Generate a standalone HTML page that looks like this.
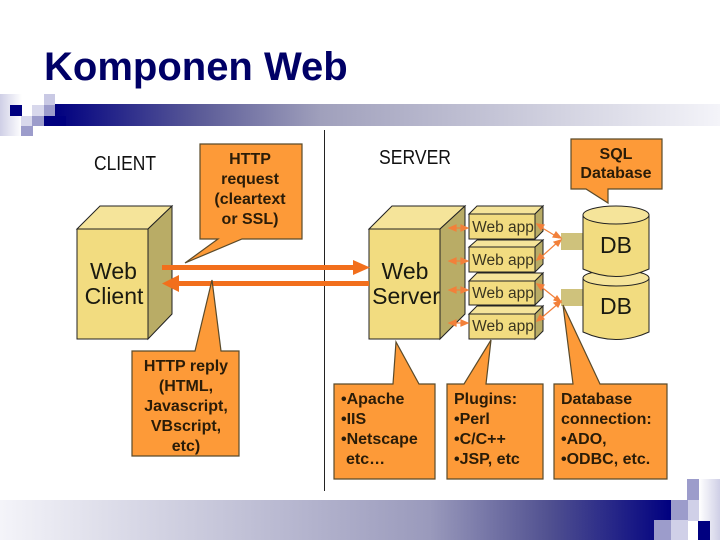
<!DOCTYPE html>
<html><head><meta charset="utf-8"><style>
html,body{margin:0;padding:0;background:#fff;width:720px;height:540px;overflow:hidden}
svg{display:block}
text{font-family:"Liberation Sans",sans-serif}
.c{fill:#fd9a38;stroke:#5a4a2a;stroke-width:1.2}
.t{font-size:16px;fill:#2a1c08;font-weight:bold;stroke:none}
.f{fill:#f2dc80;stroke:#222;stroke-width:1}
.p{fill:#f5e49a;stroke:#222;stroke-width:1}
.s{fill:#b9ac66;stroke:#222;stroke-width:1}
</style></head><body>
<svg width="720" height="540" viewBox="0 0 720 540" xmlns="http://www.w3.org/2000/svg">
<defs>
<linearGradient id="g1" x1="0" x2="1" y1="0" y2="0"><stop offset="0" stop-color="#000080"/><stop offset="0.22" stop-color="#5c5c98"/><stop offset="0.4" stop-color="#a0a0bc"/><stop offset="1" stop-color="#f4f4f9"/></linearGradient>
<linearGradient id="g2" x1="0" x2="1" y1="0" y2="0"><stop offset="0" stop-color="#f4f4f9"/><stop offset="0.64" stop-color="#9a9abc"/><stop offset="0.82" stop-color="#505090"/><stop offset="1" stop-color="#000080"/></linearGradient>
<linearGradient id="g3" x1="0" x2="1" y1="0" y2="0"><stop offset="0" stop-color="#cfcfe6"/><stop offset="1" stop-color="#fff"/></linearGradient>
<linearGradient id="g4" x1="0" x2="1" y1="0" y2="0"><stop offset="0" stop-color="#fff"/><stop offset="1" stop-color="#cfcfe6"/></linearGradient>
</defs>
<text x="44" y="80" font-size="40" font-weight="bold" fill="#000066">Komponen Web</text>

<rect x="55" y="104" width="665" height="22" fill="url(#g1)"/>
<rect x="44" y="116" width="22" height="10" fill="#000080"/>
<rect x="0" y="94" width="22" height="42" fill="url(#g3)"/>
<rect x="10" y="105" width="12" height="11" fill="#000080"/>
<rect x="44" y="94" width="11" height="11" fill="#c9c9e4"/>
<rect x="44" y="105" width="11" height="11" fill="#9c9ccb"/>
<rect x="32" y="105" width="12" height="11" fill="#d8d8ec"/>
<rect x="21" y="116" width="11" height="10" fill="#d8d8ec"/>
<rect x="32" y="116" width="12" height="10" fill="#9c9ccb"/>
<rect x="21" y="126" width="12" height="10" fill="#9c9ccb"/>

<rect x="0" y="500" width="671" height="40" fill="url(#g2)"/>
<rect x="687" y="479" width="12" height="21" fill="#9c9ccb"/>
<rect x="699" y="479" width="21" height="61" fill="url(#g4)"/>
<rect x="671" y="500" width="17" height="20" fill="#9c9ccb"/>
<rect x="688" y="500" width="11" height="21" fill="#d0d0e8"/>
<rect x="654" y="520" width="17" height="20" fill="#9c9ccb"/>
<rect x="671" y="520" width="17" height="20" fill="#d0d0e8"/>
<rect x="688" y="521" width="10" height="19" fill="#fff"/>
<rect x="698" y="521" width="12" height="19" fill="#000080"/>

<line x1="324.500" y1="130" x2="324.500" y2="491" stroke="#222" stroke-width="1"/>

<text x="94" y="170" font-size="20" fill="#111" textLength="62" lengthAdjust="spacingAndGlyphs">CLIENT</text>
<text x="379" y="164" font-size="20" fill="#111" textLength="72" lengthAdjust="spacingAndGlyphs">SERVER</text>

<!-- client box -->
<polygon class="p" points="77,229 100,206 172,206 148,229"/>
<polygon class="s" points="148,229 172,206 172,314 148,339"/>
<rect class="f" x="77" y="229" width="71" height="110"/>
<text x="113.500" y="279" font-size="23" text-anchor="middle" fill="#1a1a10">Web</text>
<text x="114" y="304" font-size="23" text-anchor="middle" fill="#1a1a10">Client</text>

<!-- server box -->
<polygon class="p" points="369,229 392,206 465,206 440,229"/>
<polygon class="s" points="440,229 465,206 465,314 440,339"/>
<rect class="f" x="369" y="229" width="71" height="110"/>
<text x="405" y="279" font-size="23" text-anchor="middle" fill="#1a1a10">Web</text>
<text x="406" y="304" font-size="23" text-anchor="middle" fill="#1a1a10">Server</text>

<!-- web apps -->
<g>
<polygon class="p" points="469,214 477,206 543,206 535,214"/><polygon class="s" points="535,214 543,206 543,231 535,239"/><rect class="f" x="469" y="214" width="66" height="25"/>
<text x="503" y="232" font-size="15.500" text-anchor="middle" fill="#3a3520">Web app</text>
<polygon class="p" points="469,247 477,240 543,240 535,247"/><polygon class="s" points="535,247 543,240 543,264 535,272"/><rect class="f" x="469" y="247" width="66" height="25"/>
<text x="503" y="265" font-size="15.500" text-anchor="middle" fill="#3a3520">Web app</text>
<polygon class="p" points="469,281 477,273 543,273 535,281"/><polygon class="s" points="535,281 543,273 543,297 535,305"/><rect class="f" x="469" y="281" width="66" height="24"/>
<text x="503" y="298" font-size="15.500" text-anchor="middle" fill="#3a3520">Web app</text>
<polygon class="p" points="469,314 477,306 543,306 535,314"/><polygon class="s" points="535,314 543,306 543,331 535,339"/><rect class="f" x="469" y="314" width="66" height="25"/>
<text x="503" y="331" font-size="15.500" text-anchor="middle" fill="#3a3520">Web app</text>
</g>

<!-- DB -->
<rect x="561" y="233" width="23" height="17" fill="#cfc27c"/>
<rect x="561" y="289" width="23" height="17" fill="#cfc27c"/>
<path class="f" d="M583,278 V332 Q616,347 649,332 V278 Z"/>
<ellipse class="p" cx="616" cy="278" rx="33" ry="8"/>
<path class="f" d="M583,215 V269 Q616,284 649,269 V215 Z"/>
<ellipse class="p" cx="616" cy="215" rx="33" ry="9"/>
<text x="616" y="253" font-size="23" text-anchor="middle" fill="#1a1a10">DB</text>
<text x="616" y="314" font-size="23" text-anchor="middle" fill="#1a1a10">DB</text>

<!-- big arrows -->
<g fill="#f26f1c">
<rect x="162" y="265" width="195" height="5"/>
<polygon points="353,260 370,267.500 353,275"/>
<rect x="175" y="281" width="194" height="5"/>
<polygon points="179,275 162,283.500 179,292"/>
</g>

<!-- small arrows -->
<g stroke="#f2803a" stroke-width="1.200" fill="#f2803a">
<line x1="450" y1="228" x2="466" y2="228"/><polygon points="449,228 456,225 456,231"/><polygon points="468,228 461,225 461,231"/>
<line x1="450" y1="261" x2="466" y2="261"/><polygon points="449,261 456,258 456,264"/><polygon points="468,261 461,258 461,264"/>
<line x1="450" y1="290" x2="466" y2="290"/><polygon points="449,290 456,287 456,293"/><polygon points="468,290 461,287 461,293"/>
<line x1="450" y1="323" x2="466" y2="323"/><polygon points="449,323 456,320 456,326"/><polygon points="468,323 461,320 461,326"/>
<line x1="539" y1="226" x2="559" y2="238"/><polygon points="537,224 544,225 541,230"/><polygon points="561,238 553,237 556,232"/>
<line x1="539" y1="259" x2="559" y2="241"/><polygon points="537,260 540,254 544,258"/><polygon points="561,240 558,246 554,242"/>
<line x1="539" y1="285" x2="559" y2="301"/><polygon points="537,284 544,285 541,290"/><polygon points="561,302 554,300 557,296"/>
<line x1="539" y1="320" x2="559" y2="303"/><polygon points="537,321 540,315 544,319"/><polygon points="561,301 558,307 554,303"/>
</g>

<!-- callouts -->
<polygon class="c" points="200,144 302,144 302,239 242,239 185,263 218,239 200,239"/>
<g text-anchor="middle">
<text class="t" x="250" y="164">HTTP</text>
<text class="t" x="250" y="184">request</text>
<text class="t" x="250" y="204">(cleartext</text>
<text class="t" x="250" y="224">or SSL)</text>
</g>

<polygon class="c" points="571,139 662,139 662,189 608,189 608,203 586,189 571,189"/>
<g text-anchor="middle">
<text class="t" x="616" y="159">SQL</text>
<text class="t" x="616" y="178">Database</text>
</g>

<polygon class="c" points="132,351 195,351 212,280 221,351 239,351 239,456 132,456"/>
<g text-anchor="middle">
<text class="t" x="186" y="371">HTTP reply</text>
<text class="t" x="186" y="391">(HTML,</text>
<text class="t" x="186" y="411">Javascript,</text>
<text class="t" x="186" y="431">VBscript,</text>
<text class="t" x="186" y="451">etc)</text>
</g>

<polygon class="c" points="334,384 393,384 396,342 419,384 435,384 435,479 334,479"/>
<text class="t" x="341" y="404">•Apache</text>
<text class="t" x="341" y="424">•IIS</text>
<text class="t" x="341" y="444">•Netscape</text>
<text class="t" x="346" y="464">etc…</text>

<polygon class="c" points="447,384 464,384 491,340 486,384 543,384 543,479 447,479"/>
<text class="t" x="454" y="404">Plugins:</text>
<text class="t" x="454" y="424">•Perl</text>
<text class="t" x="454" y="444">•C/C++</text>
<text class="t" x="454" y="464">•JSP, etc</text>

<polygon class="c" points="554,384 573,384 563,305 600,384 667,384 667,479 554,479"/>
<text class="t" x="561" y="404">Database</text>
<text class="t" x="561" y="424">connection:</text>
<text class="t" x="561" y="444">•ADO,</text>
<text class="t" x="561" y="464">•ODBC, etc.</text>
</svg>
</body></html>
